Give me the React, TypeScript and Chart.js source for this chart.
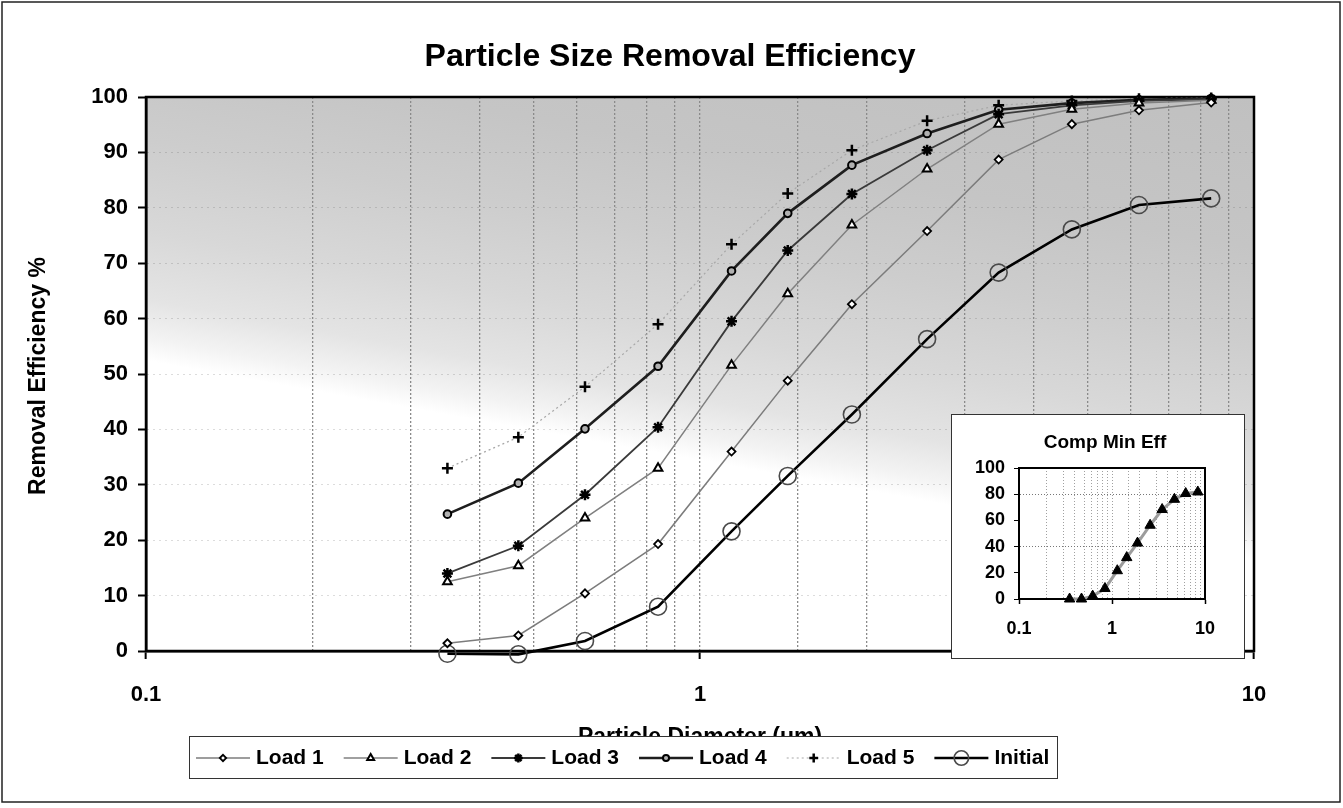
import React, { useEffect, useRef } from 'react';
import { Chart, registerables } from 'chart.js';
import { drawPoint } from 'chart.js/helpers';

Chart.register(...registerables);

// ---------------- DATA ----------------
const particleDiameters = [0.35, 0.47, 0.62, 0.84, 1.14, 1.44, 1.88, 2.57, 3.46, 4.69, 6.2, 8.37];

const load1 = [1.4, 2.8, 10.4, 19.3, 36.0, 48.8, 62.6, 75.8, 88.7, 95.1, 97.6, 99.0];
const load2 = [12.5, 15.4, 24.0, 33.0, 51.6, 64.5, 76.9, 87.0, 95.1, 97.8, 98.9, 99.4];
const load3 = [14.0, 19.0, 28.2, 40.4, 59.5, 72.3, 82.5, 90.4, 96.9, 98.5, 99.3, 99.6];
const load4 = [24.7, 30.3, 40.1, 51.4, 68.6, 79.0, 87.7, 93.4, 97.7, 98.9, 99.5, 99.7];
const load5 = [33.0, 38.6, 47.7, 59.0, 73.4, 82.6, 90.4, 95.7, 98.5, 99.3, 99.7, 99.8];
const initial = [-0.5, -0.6, 1.8, 8.0, 21.6, 31.6, 42.7, 56.3, 68.3, 76.1, 80.5, 81.7];

const compMinEff = [0, 0, 2.2, 8.0, 21.6, 31.6, 42.7, 56.3, 68.3, 76.1, 80.5, 81.7];

const seriesNames = ['Load 1', 'Load 2', 'Load 3', 'Load 4', 'Load 5', 'Initial'];
const seriesValues = [load1, load2, load3, load4, load5, initial];

const xDecades = [0.1, 1, 10];
const xTickLabels = ['0.1', '1', '10'];

const mainTitle = 'Particle Size Removal Efficiency';
const xAxisTitle = 'Particle Diameter (um)';
const yAxisTitle = 'Removal Efficiency %';
const insetTitle = 'Comp Min Eff';

// ---------------- STYLES ----------------
const FONT = '"Liberation Sans", Arial, Helvetica, sans-serif';

type SeriesStyle = {
  line: string;
  width: number;
  dash: number[];
  point: string;
  r: number;
  pb: string;
  pf: string;
  pw: number;
};

const seriesStyles: SeriesStyle[] = [
  { line: '#7c7c7c', width: 1.5, dash: [], point: 'rectRot', r: 4, pb: '#000', pf: '#ffffff', pw: 1.8 },
  { line: '#808080', width: 1.5, dash: [], point: 'triangle', r: 5, pb: '#000', pf: '#ffffff', pw: 2 },
  { line: '#3a3a3a', width: 1.8, dash: [], point: 'star', r: 5.5, pb: '#000', pf: '#000', pw: 2.5 },
  { line: '#1e1e1e', width: 2.6, dash: [], point: 'circle', r: 3.8, pb: '#000', pf: '#b0b0b0', pw: 2 },
  { line: '#a8a8a8', width: 1.2, dash: [2, 3], point: 'cross', r: 5.5, pb: '#000', pf: '#000', pw: 2.5 },
  { line: '#000000', width: 2.6, dash: [], point: 'circle', r: 8.5, pb: '#4a4a4a', pf: 'rgba(0,0,0,0)', pw: 1.6 },
];

const isDecade = (v: number, list: number[]) =>
  list.findIndex((d) => Math.abs(Math.log10(v) - Math.log10(d)) < 1e-6);

function drawMarker(ctx: CanvasRenderingContext2D, s: SeriesStyle, x: number, y: number, scale = 1) {
  ctx.save();
  ctx.strokeStyle = s.pb;
  ctx.fillStyle = s.pf;
  ctx.lineWidth = s.pw;
  drawPoint(ctx, { pointStyle: s.point as any, rotation: 0, radius: s.r * scale, borderWidth: s.pw } as any, x, y);
  ctx.restore();
}

// ---------------- MAIN PLUGIN ----------------
const mainDecor = {
  id: 'mainDecor',
  beforeDraw(chart: any) {
    const { ctx, chartArea: a, width, height } = chart;
    ctx.save();
    ctx.fillStyle = '#ffffff';
    ctx.fillRect(0, 0, width, height);
    // shaded plot background (grey at top fading to white lower down, slanted)
    const cx = (a.left + a.right) / 2;
    const dx = -0.177, dy = 0.984;
    const t0 = -100, t1 = 650;
    const g = ctx.createLinearGradient(cx + dx * t0, a.top + dy * t0, cx + dx * t1, a.top + dy * t1);
    g.addColorStop(0, '#c0c0c0');
    g.addColorStop(0.2, '#c5c5c5');
    g.addColorStop(0.32, '#cdcdcd');
    g.addColorStop(0.44, '#d8d8d8');
    g.addColorStop(0.53, '#e4e4e4');
    g.addColorStop(0.58, '#f3f3f3');
    g.addColorStop(0.61, '#ffffff');
    g.addColorStop(1, '#ffffff');
    ctx.fillStyle = g;
    ctx.fillRect(a.left, a.top, a.right - a.left, a.bottom - a.top);
    ctx.restore();
  },
  beforeDatasetsDraw(chart: any) {
    const { ctx, chartArea: a } = chart;
    ctx.save();
    ctx.strokeStyle = '#000';
    ctx.lineWidth = 2.5;
    ctx.strokeRect(a.left, a.top, a.right - a.left, a.bottom - a.top);
    ctx.restore();
  },
  afterDraw(chart: any) {
    const { ctx, width, height } = chart;
    ctx.save();
    // outer frame
    ctx.strokeStyle = '#222';
    ctx.lineWidth = 1.5;
    ctx.strokeRect(2, 2, width - 5, height - 8);

    ctx.fillStyle = '#000';
    // main title
    ctx.font = `bold 32px ${FONT}`;
    ctx.textAlign = 'center';
    ctx.textBaseline = 'alphabetic';
    ctx.fillText(mainTitle, 670, 66);

    // y-axis title
    ctx.save();
    ctx.translate(45, 376);
    ctx.rotate(-Math.PI / 2);
    ctx.font = `bold 23px ${FONT}`;
    ctx.textAlign = 'center';
    ctx.textBaseline = 'alphabetic';
    ctx.fillText(yAxisTitle, 0, 0);
    ctx.restore();

    // x-axis title (partly hidden behind legend)
    ctx.font = `bold 23px ${FONT}`;
    ctx.textAlign = 'center';
    ctx.textBaseline = 'alphabetic';
    ctx.fillText(xAxisTitle, 700, 744);

    // legend box
    const bx = 189, by = 736, bw = 868, bh = 42;
    ctx.fillStyle = '#fff';
    ctx.fillRect(bx, by, bw, bh);
    ctx.strokeStyle = '#333';
    ctx.lineWidth = 1;
    ctx.strokeRect(bx + 0.5, by + 0.5, bw, bh);
    const cy = by + bh / 2 + 1;
    let x = 196;
    ctx.font = `bold 21px ${FONT}`;
    ctx.textAlign = 'left';
    ctx.textBaseline = 'middle';
    seriesNames.forEach((name, i) => {
      const s = seriesStyles[i];
      ctx.save();
      ctx.strokeStyle = s.line;
      ctx.lineWidth = s.width;
      ctx.setLineDash(s.dash);
      ctx.beginPath();
      ctx.moveTo(x, cy);
      ctx.lineTo(x + 54, cy);
      ctx.stroke();
      ctx.restore();
      drawMarker(ctx, s, x + 27, cy, i === 5 ? 0.85 : 0.8);
      ctx.fillStyle = '#000';
      const tx = x + 60;
      ctx.fillText(name, tx, cy);
      x = tx + ctx.measureText(name).width + 20;
    });
    ctx.restore();
  },
};

// ---------------- INSET PLUGIN ----------------
const insetDecor = {
  id: 'insetDecor',
  beforeDraw(chart: any) {
    const { ctx, width, height } = chart;
    ctx.save();
    ctx.fillStyle = '#fff';
    ctx.fillRect(0, 0, width, height);
    ctx.restore();
  },
  beforeDatasetsDraw(chart: any) {
    const { ctx, chartArea: a } = chart;
    ctx.save();
    ctx.strokeStyle = '#000';
    ctx.lineWidth = 2;
    ctx.strokeRect(a.left, a.top, a.right - a.left, a.bottom - a.top);
    ctx.restore();
  },
  afterDraw(chart: any) {
    const { ctx, width, height } = chart;
    ctx.save();
    ctx.strokeStyle = '#333';
    ctx.lineWidth = 1;
    ctx.strokeRect(0.5, 0.5, width - 1, height - 1);
    ctx.fillStyle = '#000';
    ctx.font = `bold 19px ${FONT}`;
    ctx.textAlign = 'center';
    ctx.textBaseline = 'middle';
    ctx.fillText(insetTitle, 154, 29);
    ctx.restore();
  },
};

export default function App() {
  const mainRef = useRef<HTMLCanvasElement | null>(null);
  const insetRef = useRef<HTMLCanvasElement | null>(null);

  useEffect(() => {
    document.body.style.margin = '0';
    const mainCanvas = mainRef.current!;
    const insetCanvas = insetRef.current!;

    const datasets = seriesNames.map((name, i) => {
      const s = seriesStyles[i];
      return {
        label: name,
        data: particleDiameters.map((x, j) => ({ x, y: seriesValues[i][j] })),
        borderColor: s.line,
        borderWidth: s.width,
        borderDash: s.dash,
        pointStyle: s.point,
        pointRadius: s.r,
        pointBorderColor: s.pb,
        pointBackgroundColor: s.pf,
        pointBorderWidth: s.pw,
        showLine: true,
        fill: false,
        tension: 0,
        clip: false as any,
      };
    });

    const mainChart = new Chart(mainCanvas, {
      type: 'line',
      data: { datasets: datasets as any },
      options: {
        responsive: false,
        animation: false,
        devicePixelRatio: 1,
        layout: { padding: { top: 97, right: 89, left: 0, bottom: 0 } },
        plugins: { legend: { display: false }, title: { display: false }, tooltip: { enabled: false } },
        scales: {
          x: {
            type: 'logarithmic',
            min: 0.1,
            max: 10,
            afterFit: (s: any) => { s.height = 157; },
            ticks: {
              autoSkip: false,
              maxRotation: 0,
              minRotation: 0,
              padding: 23,
              color: '#000',
              font: { family: FONT, size: 22, weight: 'bold' },
              callback: (v: any) => {
                const k = isDecade(Number(v), xDecades);
                return k >= 0 ? xTickLabels[k] : '';
              },
            },
            grid: {
              color: '#8a8a8a',
              lineWidth: 1.3,
              tickLength: 8,
              tickWidth: 2,
              tickColor: (c: any) => (c.tick && isDecade(c.tick.value, xDecades) >= 0 ? '#000' : 'rgba(0,0,0,0)'),
            },
            border: { color: '#000', width: 2.5, dash: [2, 2] },
          } as any,
          y: {
            min: 0,
            max: 100,
            afterFit: (s: any) => { s.width = 146; },
            ticks: {
              stepSize: 10,
              padding: 10,
              color: '#000',
              font: { family: FONT, size: 22, weight: 'bold' },
            },
            grid: {
              color: 'rgba(80,80,80,0.4)',
              lineWidth: 1,
              tickLength: 8,
              tickWidth: 2,
              tickColor: '#000',
            },
            border: { color: '#000', width: 2.5, dash: [1, 5] },
          } as any,
        },
      },
      plugins: [mainDecor],
    });

    const insetChart = new Chart(insetCanvas, {
      type: 'line',
      data: {
        datasets: [
          {
            label: insetTitle,
            data: particleDiameters.map((x, j) => ({ x, y: compMinEff[j] })),
            borderColor: '#9c9c9c',
            borderWidth: 3,
            pointStyle: 'triangle',
            pointRadius: 6,
            pointBorderColor: '#000',
            pointBackgroundColor: '#000',
            pointBorderWidth: 1,
            showLine: true,
            fill: false,
            tension: 0,
            clip: false as any,
          },
        ] as any,
      },
      options: {
        responsive: false,
        animation: false,
        devicePixelRatio: 1,
        layout: { padding: { top: 54, right: 40, left: 0, bottom: 0 } },
        plugins: { legend: { display: false }, title: { display: false }, tooltip: { enabled: false } },
        scales: {
          x: {
            type: 'logarithmic',
            min: 0.1,
            max: 10,
            afterFit: (s: any) => { s.height = 60; },
            ticks: {
              autoSkip: false,
              maxRotation: 0,
              minRotation: 0,
              padding: 14,
              color: '#000',
              font: { family: FONT, size: 18, weight: 'bold' },
              callback: (v: any) => {
                const k = isDecade(Number(v), xDecades);
                return k >= 0 ? xTickLabels[k] : '';
              },
            },
            grid: {
              color: '#a0a0a0',
              lineWidth: 1,
              tickLength: 5,
              tickWidth: 1.5,
              tickColor: (c: any) => (c.tick && isDecade(c.tick.value, xDecades) >= 0 ? '#000' : 'rgba(0,0,0,0)'),
            },
            border: { color: '#000', width: 2, dash: [1, 2] },
          } as any,
          y: {
            min: 0,
            max: 100,
            afterFit: (s: any) => { s.width = 68; },
            ticks: {
              stepSize: 10,
              padding: 9,
              color: '#000',
              font: { family: FONT, size: 18, weight: 'bold' },
              callback: (v: any) => (Number(v) % 20 === 0 ? String(v) : ''),
            },
            grid: {
              color: (c: any) => (c.tick && (c.tick.value === 40 || c.tick.value === 80) ? '#777' : 'rgba(0,0,0,0)'),
              lineWidth: 1,
              tickLength: 5,
              tickWidth: 1,
              tickColor: '#000',
            },
            border: { color: '#000', width: 2, dash: [1, 2] },
          } as any,
        },
      },
      plugins: [insetDecor],
    });

    return () => {
      mainChart.destroy();
      insetChart.destroy();
    };
  }, []);

  return (
    <div style={{ position: 'relative', width: 1343, height: 808 }}>
      <canvas ref={mainRef} width={1343} height={808} style={{ position: 'absolute', left: 0, top: 0 }} />
      <canvas ref={insetRef} width={294} height={245} style={{ position: 'absolute', left: 951, top: 414 }} />
    </div>
  );
}
